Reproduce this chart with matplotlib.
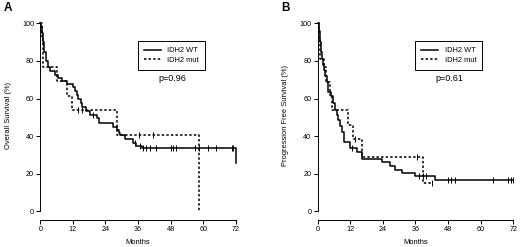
import matplotlib
matplotlib.use("Agg")
import matplotlib.pyplot as plt
import numpy as np
from matplotlib.lines import Line2D

plt.rcParams['font.family'] = ['Liberation Sans', 'DejaVu Sans']

# Panel A - overall survival
a_wt_t = [0, 0.3, 0.6, 0.9, 1.4, 2.0, 3.0, 3.6, 5.4, 6.5, 8.0, 9.8, 11.9, 12.8, 13.5, 14.0,
          15.0, 15.5, 16.8, 18.3, 20.7, 21.5, 26.9, 28.1, 29.0, 29.4, 31.2, 34.2, 35.2, 37.3, 72]
a_wt_s = [100, 98, 95, 90, 85, 80, 77, 74.6, 72.5, 70.7, 69.3, 67.5, 66, 64.2, 62, 60,
          57.4, 55.7, 53.4, 51.2, 49.4, 47.2, 45, 43.3, 41.5, 40.4, 38.3, 36.2, 35, 33.8, 25.5]
a_wt_cens = [19.5, 34.9, 36.7, 37.7, 38.9, 40.4, 42.6, 48.0, 48.7, 49.8, 56.9, 58.5, 61.9,
             64.7, 70.4, 71.0]

a_mut_t = [0, 0.5, 0.9, 6.0, 9.7, 11.5, 28.3, 58.5]
a_mut_s = [100, 92, 77, 69.2, 61.5, 54, 40.5, 0]
a_mut_cens = [14.0, 15.2, 36.4, 41.6]

# Panel B - progression free survival
b_wt_t = [0, 0.3, 0.5, 0.8, 1.0, 1.2, 1.5, 2.0, 2.5, 2.8, 3.3, 3.7, 3.9, 4.8, 5.8, 6.4, 7.0,
          7.6, 8.2, 8.8, 9.6, 11.9, 14.3, 16.4, 23.5, 26.6, 28.5, 30.9, 35.8, 43.2, 72]
b_wt_s = [100, 98, 96, 93, 90, 85, 81, 78, 75, 72, 69, 66, 63.5, 61.3, 57.5, 54, 51.5,
          48.6, 45.5, 42.3, 37, 33.5, 31.7, 27.8, 26, 24, 22.2, 20.5, 19, 16.5, 16.5]
b_wt_cens = [12.8, 37.4, 38.9, 40.0, 48.1, 49.0, 50.5, 64.6, 70.2, 71.0, 71.8]

b_mut_t = [0, 0.6, 1.0, 2.2, 3.2, 4.6, 5.3, 11.3, 12.9, 16.2, 38.9, 42.0]
b_mut_s = [100, 92, 81, 77, 69, 62, 54, 46, 38.5, 29, 15, 15]
b_mut_cens = [13.7, 36.4, 42.0]

panels = [
    ("A", "Overall Survival (%)", "p=0.96", a_wt_t, a_wt_s, a_wt_cens, a_mut_t, a_mut_s, a_mut_cens),
    ("B", "Progression Free Survival (%)", "p=0.61", b_wt_t, b_wt_s, b_wt_cens, b_mut_t, b_mut_s, b_mut_cens),
]

xticks = [0, 12, 24, 36, 48, 60, 72]
yticks = [0, 20, 40, 60, 80, 100]

dash = (0, (1.6, 1.4))


def level_at(t, s, x):
    i = np.searchsorted(t, x, side='right') - 1
    return np.array(s)[i]


fig = plt.figure(figsize=(5.2, 2.47), dpi=100)
lefts = [40.3 / 520, 317.7 / 520]

for k, (letter, ylab, ptxt, wt_t, wt_s, wt_c, mu_t, mu_s, mu_c) in enumerate(panels):
    ax = fig.add_axes([lefts[k], 0.1093, 0.3813, 0.8267])
    ax.set_xlim(0, 73)
    ax.set_ylim(-4.6, 104)

    ax.step(wt_t, wt_s, where='post', color='black', lw=1.1, clip_on=False)
    ax.step(mu_t, mu_s, where='post', color='black', lw=1.1, linestyle=dash, clip_on=False)
    ax.plot(wt_c, level_at(wt_t, wt_s, wt_c), linestyle='none', marker='|',
            color='black', markersize=4, markeredgewidth=0.7, clip_on=False)
    ax.plot(mu_c, level_at(mu_t, mu_s, mu_c), linestyle='none', marker='|',
            color='black', markersize=4, markeredgewidth=0.7, clip_on=False)

    for side in ['top', 'right']:
        ax.spines[side].set_visible(False)
    ax.spines['left'].set_bounds(0, 100)
    ax.spines['bottom'].set_bounds(0, 72)
    ax.spines['left'].set_linewidth(0.7)
    ax.spines['bottom'].set_linewidth(0.7)
    ax.set_xticks(xticks)
    ax.set_yticks(yticks)
    ax.tick_params(direction='out', length=3, width=0.7, labelsize=5.2, pad=1.5)

    ax.set_xlabel("Months", fontsize=5.4)
    ax.xaxis.set_label_coords(36 / 73, -0.095)
    ax.set_ylabel(ylab, fontsize=5.4)
    ax.yaxis.set_label_coords(-0.145, 0.51)

    handles = [Line2D([], [], color='black', lw=1.1),
               Line2D([], [], color='black', lw=1.1, linestyle=dash)]
    leg = ax.legend(handles, ["IDH2 WT", "IDH2 mut"], loc='upper left',
                    bbox_to_anchor=((lefts[k] * 520 + 97.7) / 520, 1 - 41 / 247),
                    bbox_transform=fig.transFigure, fontsize=5.4, fancybox=False,
                    framealpha=1, edgecolor='black', borderpad=0.8, handlelength=2.2,
                    handletextpad=0.9, labelspacing=0.35, borderaxespad=0)
    leg.get_frame().set_linewidth(0.7)

    ax.text(48.5, 70.5, ptxt, fontsize=6.5, ha='center', va='center')
    fig.text((lefts[k] * 520 - 32) / 520, 1 - 8 / 247, letter, fontsize=8.5,
             fontweight='bold', ha='center', va='center')

fig.savefig("out.png", dpi=100)
